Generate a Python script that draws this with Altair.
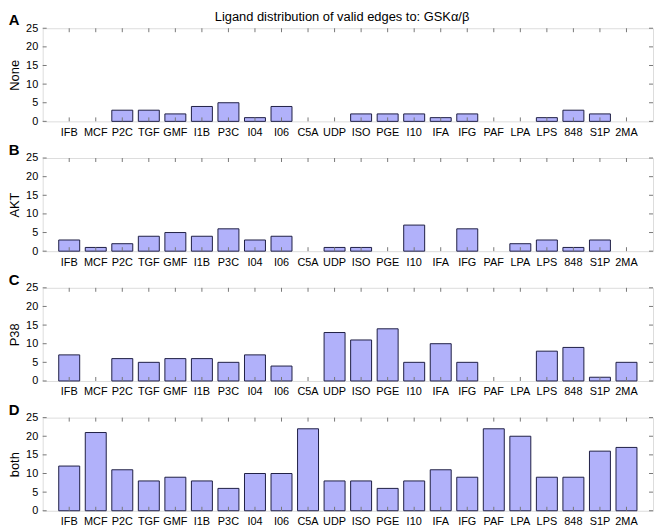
import altair as alt
import pandas as pd

ligands = ["IFB", "MCF", "P2C", "TGF", "GMF", "I1B", "P3C", "I04", "I06", "C5A", "UDP",
           "ISO", "PGE", "I10", "IFA", "IFG", "PAF", "LPA", "LPS", "848", "S1P", "2MA"]
none_vals = [0, 0, 3, 3, 2, 4, 5, 1, 4, 0, 0, 2, 2, 2, 1, 2, 0, 0, 1, 3, 2, 0]
akt_vals = [3, 1, 2, 4, 5, 4, 6, 3, 4, 0, 1, 1, 0, 7, 0, 6, 0, 2, 3, 1, 3, 0]
p38_vals = [7, 0, 6, 5, 6, 6, 5, 7, 4, 0, 13, 11, 14, 5, 10, 5, 0, 0, 8, 9, 1, 5]
both_vals = [12, 21, 11, 8, 9, 8, 6, 10, 10, 22, 8, 8, 6, 8, 11, 9, 22, 20, 9, 9, 16, 17]
panel_letters = ["A", "B", "C", "D"]
panel_names = ["None", "AKT", "P38", "both"]
y_ticks = [0, 5, 10, 15, 20, 25]
main_title = "Ligand distribution of valid edges to: GSKα/β"

W, H = 616, 94
FONT = "Liberation Sans"
TICK_COLOR = "#777777"

xscale = alt.Scale(domain=ligands, paddingInner=0.21, paddingOuter=0.605)
yscale = alt.Scale(domain=[0, 25], nice=False)

ytick_df = pd.DataFrame({"v": y_ticks})
cat_df = pd.DataFrame({"ligand": ligands})

x_axis = alt.Axis(labelAngle=0, ticks=False, domain=False, grid=False,
                  labelPadding=5, labelFontSize=11, labelFont=FONT,
                  labelColor="#000000")


def y_axis():
    return alt.Axis(values=y_ticks, ticks=False, domain=False, grid=False,
                    labelPadding=5, labelFontSize=11, labelFont=FONT,
                    labelColor="#000000", titleFontSize=13, titleFont=FONT,
                    titleFontWeight="normal", titleColor="#000000", titlePadding=4)


def panel(letter, name, vals):
    df = pd.DataFrame({"ligand": ligands, "count": vals})
    bars = alt.Chart(df).transform_filter("datum.count > 0").mark_bar(
        fill="#b1b1fa", stroke="#1e1e44", strokeWidth=1).encode(
        x=alt.X("ligand:N", sort=ligands, scale=xscale, title=None, axis=x_axis),
        y=alt.Y("count:Q", scale=yscale, title=name, axis=y_axis()),
    )
    left_ticks = alt.Chart(ytick_df).mark_rule(color=TICK_COLOR).encode(
        y=alt.Y("v:Q", scale=yscale, title=name, axis=y_axis()),
        x=alt.value(0), x2=alt.value(4))
    right_ticks = alt.Chart(ytick_df).mark_rule(color=TICK_COLOR).encode(
        y=alt.Y("v:Q", scale=yscale, title=name, axis=y_axis()),
        x=alt.value(W - 4), x2=alt.value(W))
    top_ticks = alt.Chart(cat_df).mark_rule(color=TICK_COLOR).encode(
        x=alt.X("ligand:N", sort=ligands, scale=xscale, title=None, axis=x_axis),
        y=alt.value(0), y2=alt.value(4))
    bottom_ticks = alt.Chart(cat_df).mark_rule(color=TICK_COLOR).encode(
        x=alt.X("ligand:N", sort=ligands, scale=xscale, title=None, axis=x_axis),
        y=alt.value(H - 4), y2=alt.value(H))
    return alt.layer(bars, left_ticks, right_ticks, top_ticks, bottom_ticks).properties(
        width=W, height=H,
        title=alt.Title(letter, anchor="start", frame="bounds", fontSize=15,
                        fontWeight="bold", font=FONT, color="#000000", offset=-6),
    )


series = [none_vals, akt_vals, p38_vals, both_vals]
panels = [panel(l, n, v) for l, n, v in zip(panel_letters, panel_names, series)]

chart = alt.vconcat(*panels, spacing=37, bounds="flush").properties(
    title=alt.Title(main_title, anchor="middle", fontSize=13, fontWeight="normal",
                    font=FONT, color="#000000", dx=11, offset=-11),
    padding={"left": 0, "top": 0, "right": 0, "bottom": 0},
).configure_view(stroke="#333333", strokeWidth=1).configure(font=FONT)

chart.save("out.html", embed_options={"renderer": "svg", "actions": False})
